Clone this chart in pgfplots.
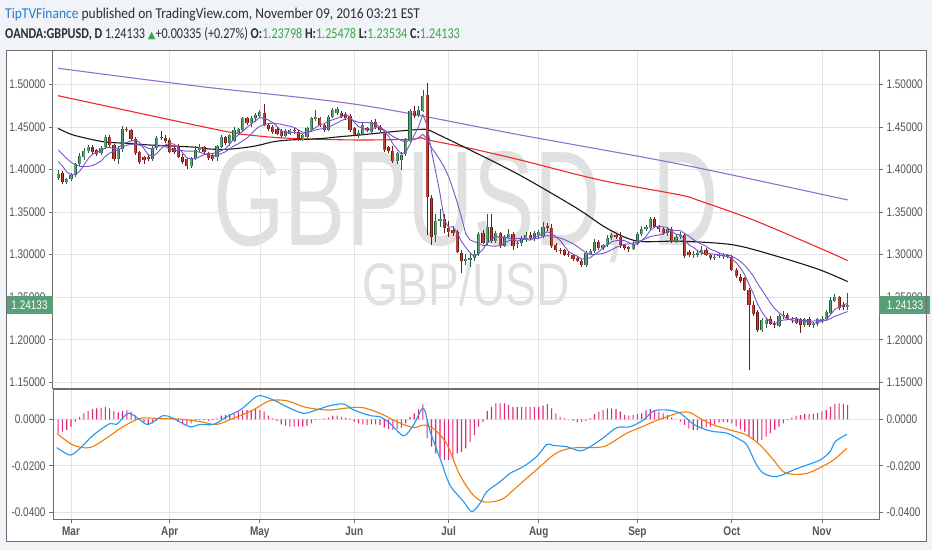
\documentclass[border=0pt]{standalone}
\usepackage{fontspec}
\setmainfont{Liberation Sans}[FakeStretch=0.8]
\newfontfamily\hdr{Carlito}[FakeStretch=0.9]
\newfontfamily\hdrn{Carlito}[FakeStretch=0.81]
\newfontfamily\sym{DejaVu Sans}
\newfontfamily\wmfont{Liberation Sans}[FakeStretch=0.68]
\newfontfamily\wmfontb{Liberation Sans}[FakeStretch=0.77]
\usepackage{pgfplots}
\pgfplotsset{compat=1.18}
\usepackage{pgfplotstable}

\definecolor{bgc}{RGB}{240,243,247}
\definecolor{framec}{RGB}{110,110,110}
\definecolor{gridc}{RGB}{228,228,228}
\definecolor{labc}{RGB}{85,85,85}
\definecolor{upf}{RGB}{88,160,118}
\definecolor{upb}{RGB}{40,92,60}
\definecolor{dnf}{RGB}{190,62,48}
\definecolor{dnb}{RGB}{100,28,20}
\definecolor{mashort}{RGB}{120,86,200}
\definecolor{malong}{RGB}{150,110,210}
\definecolor{mared}{RGB}{240,40,40}
\definecolor{mablack}{RGB}{25,25,25}
\definecolor{macdc}{RGB}{33,150,243}
\definecolor{sigc}{RGB}{245,124,0}
\definecolor{histc}{RGB}{226,40,120}
\definecolor{pricec}{RGB}{88,158,118}
\definecolor{wmc}{RGB}{224,224,224}
\definecolor{hblue}{RGB}{40,120,210}
\definecolor{htext}{RGB}{45,45,45}
\definecolor{hgreen}{RGB}{60,165,70}

% daily candles, index 0 = 1 Mar 2016; f, s = short moving averages
\pgfplotstableread{
i o h l c f s
-3 1.3900 1.3990 1.3875 1.3950 1.4092 1.4229
-2 1.3955 1.3980 1.3830 1.3850 1.4040 1.4180
-1 1.3850 1.3905 1.3835 1.3890 1.3970 1.4130
0 1.3890 1.3960 1.3870 1.3930 1.3940 1.4085
1 1.3930 1.4080 1.3910 1.4060 1.3937 1.4055
2 1.4060 1.4190 1.4040 1.4160 1.3978 1.4038
3 1.4150 1.4250 1.4110 1.4220 1.4052 1.4033
4 1.4215 1.4290 1.4190 1.4260 1.4126 1.4036
5 1.4260 1.4290 1.4180 1.4200 1.4180 1.4045
6 1.4230 1.4240 1.4160 1.4180 1.4204 1.4070
7 1.4190 1.4280 1.4170 1.4250 1.4222 1.4100
8 1.4260 1.4400 1.4240 1.4380 1.4254 1.4153
9 1.4380 1.4400 1.4260 1.4285 1.4259 1.4193
10 1.4285 1.4300 1.4100 1.4120 1.4243 1.4212
11 1.4120 1.4270 1.4060 1.4240 1.4255 1.4230
12 1.4240 1.4515 1.4210 1.4480 1.4301 1.4262
13 1.4470 1.4500 1.4440 1.4465 1.4318 1.4286
14 1.4460 1.4475 1.4340 1.4360 1.4333 1.4296
15 1.4360 1.4380 1.4170 1.4190 1.4347 1.4295
16 1.4200 1.4220 1.4070 1.4090 1.4317 1.4286
17 1.4150 1.4160 1.4060 1.4110 1.4243 1.4272
18 1.4150 1.4170 1.4100 1.4120 1.4174 1.4246
19 1.4120 1.4270 1.4100 1.4250 1.4152 1.4243
20 1.4250 1.4390 1.4230 1.4375 1.4189 1.4268
21 1.4385 1.4450 1.4350 1.4370 1.4245 1.4281
22 1.4370 1.4400 1.4310 1.4330 1.4289 1.4266
23 1.4345 1.4370 1.4190 1.4210 1.4307 1.4241
24 1.4250 1.4270 1.4180 1.4200 1.4297 1.4225
25 1.4270 1.4300 1.4130 1.4150 1.4252 1.4221
26 1.4150 1.4180 1.4060 1.4090 1.4196 1.4221
27 1.4120 1.4140 1.4000 1.4040 1.4138 1.4214
28 1.4040 1.4150 1.4020 1.4130 1.4122 1.4215
29 1.4130 1.4270 1.4110 1.4230 1.4128 1.4213
30 1.4230 1.4300 1.4210 1.4265 1.4151 1.4202
31 1.4265 1.4280 1.4180 1.4200 1.4173 1.4185
32 1.4195 1.4210 1.4110 1.4130 1.4191 1.4165
33 1.4170 1.4190 1.4100 1.4120 1.4189 1.4156
34 1.4150 1.4290 1.4100 1.4275 1.4198 1.4163
35 1.4260 1.4400 1.4250 1.4385 1.4222 1.4187
36 1.4385 1.4395 1.4290 1.4307 1.4243 1.4208
37 1.4307 1.4420 1.4280 1.4405 1.4298 1.4245
38 1.4330 1.4500 1.4320 1.4460 1.4366 1.4278
39 1.4420 1.4490 1.4400 1.4470 1.4405 1.4302
40 1.4460 1.4620 1.4440 1.4600 1.4448 1.4335
41 1.4600 1.4620 1.4520 1.4540 1.4495 1.4369
42 1.4540 1.4630 1.4500 1.4605 1.4535 1.4417
43 1.4600 1.4660 1.4560 1.4640 1.4571 1.4469
44 1.4630 1.4700 1.4600 1.4670 1.4611 1.4508
45 1.4660 1.4770 1.4510 1.4525 1.4596 1.4522
46 1.4525 1.4540 1.4450 1.4470 1.4582 1.4539
47 1.4500 1.4520 1.4420 1.4445 1.4550 1.4543
48 1.4480 1.4500 1.4400 1.4415 1.4505 1.4538
49 1.4455 1.4470 1.4370 1.4395 1.4450 1.4531
50 1.4395 1.4470 1.4380 1.4455 1.4436 1.4516
51 1.4420 1.4480 1.4400 1.4465 1.4435 1.4509
52 1.4465 1.4490 1.4420 1.4455 1.4437 1.4494
53 1.4445 1.4460 1.4330 1.4345 1.4423 1.4464
54 1.4345 1.4420 1.4330 1.4405 1.4425 1.4438
55 1.4385 1.4500 1.4370 1.4485 1.4431 1.4434
56 1.4465 1.4620 1.4440 1.4600 1.4458 1.4447
57 1.4590 1.4700 1.4570 1.4620 1.4491 1.4464
58 1.4600 1.4620 1.4500 1.4520 1.4526 1.4475
59 1.4520 1.4540 1.4440 1.4463 1.4538 1.4482
60 1.4463 1.4640 1.4450 1.4620 1.4565 1.4498
61 1.4612 1.4720 1.4600 1.4698 1.4584 1.4521
62 1.4660 1.4730 1.4640 1.4706 1.4601 1.4546
63 1.4660 1.4690 1.4600 1.4612 1.4620 1.4573
64 1.4651 1.4670 1.4580 1.4600 1.4647 1.4593
65 1.4627 1.4650 1.4440 1.4463 1.4616 1.4591
66 1.4483 1.4500 1.4390 1.4405 1.4557 1.4571
67 1.4405 1.4460 1.4370 1.4430 1.4502 1.4552
68 1.4416 1.4540 1.4400 1.4522 1.4484 1.4552
69 1.4483 1.4500 1.4440 1.4460 1.4456 1.4552
70 1.4443 1.4580 1.4430 1.4560 1.4475 1.4546
71 1.4560 1.4590 1.4480 1.4500 1.4494 1.4526
72 1.4500 1.4520 1.4440 1.4460 1.4500 1.4501
73 1.4444 1.4460 1.4210 1.4229 1.4442 1.4463
74 1.4260 1.4280 1.4190 1.4215 1.4393 1.4425
75 1.4215 1.4270 1.4080 1.4095 1.4300 1.4388
76 1.4095 1.4210 1.4070 1.4190 1.4238 1.4366
77 1.4115 1.4210 1.3995 1.4170 1.4180 1.4340
78 1.4182 1.4370 1.4160 1.4346 1.4203 1.4323
79 1.4330 1.4710 1.4320 1.4690 1.4298 1.4346
80 1.4690 1.4740 1.4600 1.4625 1.4404 1.4352
81 1.4640 1.4740 1.4620 1.4698 1.4506 1.4372
82 1.4690 1.4933 1.4670 1.4863 1.4644 1.4412
83 1.4870 1.5010 1.3230 1.3680 1.4511 1.4357
84 1.3661 1.3700 1.3113 1.3211 1.4215 1.4257
85 1.3230 1.3480 1.3150 1.3400 1.3970 1.4187
86 1.3400 1.3530 1.3330 1.3420 1.3715 1.4110
87 1.3420 1.3480 1.3250 1.3310 1.3404 1.4024
88 1.3310 1.3400 1.3210 1.3260 1.3320 1.3916
89 1.3290 1.3340 1.3220 1.3250 1.3328 1.3772
90 1.3270 1.3290 1.3020 1.3035 1.3255 1.3613
91 1.3015 1.3060 1.2780 1.2920 1.3155 1.3435
92 1.2920 1.3010 1.2880 1.2950 1.3083 1.3244
93 1.2940 1.3020 1.2850 1.2960 1.3023 1.3172
94 1.2960 1.3050 1.2920 1.3010 1.2975 1.3152
95 1.3010 1.3270 1.2980 1.3240 1.3016 1.3136
96 1.3250 1.3290 1.3120 1.3140 1.3060 1.3108
97 1.3140 1.3480 1.3110 1.3330 1.3136 1.3110
98 1.3330 1.3480 1.3140 1.3160 1.3176 1.3100
99 1.3160 1.3280 1.3140 1.3250 1.3224 1.3100
100 1.3250 1.3270 1.3080 1.3100 1.3196 1.3106
101 1.3100 1.3230 1.3090 1.3210 1.3210 1.3135
102 1.3210 1.3300 1.3180 1.3240 1.3192 1.3164
103 1.3240 1.3260 1.3060 1.3100 1.3180 1.3178
104 1.3120 1.3160 1.3080 1.3135 1.3157 1.3191
105 1.3135 1.3220 1.3100 1.3190 1.3175 1.3186
106 1.3190 1.3260 1.3150 1.3230 1.3179 1.3195
107 1.3230 1.3270 1.3170 1.3190 1.3169 1.3181
108 1.3190 1.3280 1.3160 1.3250 1.3199 1.3190
109 1.3230 1.3290 1.3200 1.3260 1.3224 1.3191
110 1.3220 1.3380 1.3200 1.3330 1.3252 1.3214
111 1.3335 1.3370 1.3280 1.3310 1.3268 1.3224
112 1.3310 1.3360 1.3080 1.3100 1.3250 1.3210
113 1.3110 1.3140 1.3030 1.3050 1.3210 1.3205
114 1.3060 1.3080 1.3010 1.3040 1.3166 1.3195
115 1.3050 1.3070 1.2980 1.2995 1.3099 1.3176
116 1.3010 1.3040 1.2970 1.2990 1.3035 1.3152
117 1.2990 1.3010 1.2930 1.2950 1.3005 1.3128
118 1.2955 1.2980 1.2910 1.2930 1.2981 1.3096
119 1.2925 1.2950 1.2855 1.2875 1.2948 1.3057
120 1.2875 1.3040 1.2860 1.3020 1.2953 1.3026
121 1.3010 1.3070 1.2990 1.3040 1.2963 1.2999
122 1.3040 1.3180 1.3020 1.3150 1.3003 1.3004
123 1.3150 1.3170 1.3060 1.3080 1.3033 1.3007
124 1.3075 1.3130 1.3050 1.3110 1.3080 1.3014
125 1.3110 1.3230 1.3090 1.3190 1.3114 1.3034
126 1.3190 1.3250 1.3170 1.3230 1.3152 1.3058
127 1.3230 1.3250 1.3180 1.3210 1.3164 1.3084
128 1.3210 1.3270 1.3080 1.3110 1.3170 1.3102
129 1.3110 1.3130 1.3060 1.3080 1.3164 1.3122
130 1.3085 1.3100 1.3030 1.3070 1.3140 1.3127
131 1.3070 1.3160 1.3050 1.3130 1.3120 1.3136
132 1.3130 1.3270 1.3110 1.3245 1.3127 1.3146
133 1.3245 1.3340 1.3220 1.3305 1.3166 1.3168
134 1.3300 1.3350 1.3280 1.3320 1.3214 1.3189
135 1.3310 1.3445 1.3290 1.3420 1.3284 1.3212
136 1.3420 1.3440 1.3310 1.3330 1.3324 1.3222
137 1.3330 1.3350 1.3270 1.3300 1.3335 1.3231
138 1.3300 1.3330 1.3230 1.3250 1.3324 1.3245
139 1.3250 1.3320 1.3220 1.3300 1.3320 1.3267
140 1.3300 1.3330 1.3140 1.3155 1.3267 1.3276
141 1.3160 1.3240 1.3140 1.3210 1.3243 1.3284
142 1.3210 1.3260 1.3180 1.3230 1.3229 1.3282
143 1.3230 1.3250 1.2960 1.2985 1.3176 1.3250
144 1.3030 1.3050 1.2970 1.2995 1.3115 1.3218
145 1.2995 1.3040 1.2960 1.3010 1.3086 1.3177
146 1.3000 1.3050 1.2970 1.3020 1.3048 1.3146
147 1.3020 1.3100 1.3000 1.3060 1.3014 1.3122
148 1.3060 1.3080 1.2980 1.3000 1.3017 1.3097
149 1.2995 1.3010 1.2940 1.2960 1.3010 1.3063
150 1.2960 1.2995 1.2940 1.2975 1.3003 1.3045
151 1.2985 1.3020 1.2960 1.2990 1.2997 1.3023
152 1.2980 1.3020 1.2950 1.2995 1.2984 1.2999
153 1.2990 1.3010 1.2960 1.2975 1.2979 1.2998
154 1.2975 1.2990 1.2810 1.2825 1.2952 1.2981
155 1.2820 1.2840 1.2730 1.2745 1.2906 1.2954
156 1.2740 1.2770 1.2670 1.2690 1.2846 1.2921
157 1.2725 1.2740 1.2570 1.2585 1.2764 1.2874
158 1.2585 1.2610 1.1640 1.2410 1.2651 1.2815
159 1.2410 1.2450 1.2280 1.2300 1.2546 1.2749
160 1.2330 1.2350 1.2090 1.2110 1.2419 1.2662
161 1.2110 1.2260 1.2090 1.2230 1.2327 1.2586
162 1.2180 1.2260 1.2140 1.2230 1.2256 1.2510
163 1.2250 1.2280 1.2170 1.2190 1.2212 1.2431
164 1.2200 1.2220 1.2140 1.2170 1.2186 1.2366
165 1.2165 1.2300 1.2150 1.2275 1.2219 1.2319
166 1.2275 1.2340 1.2250 1.2295 1.2232 1.2279
167 1.2290 1.2320 1.2230 1.2250 1.2236 1.2246
168 1.2250 1.2270 1.2200 1.2240 1.2246 1.2229
169 1.2250 1.2270 1.2180 1.2200 1.2252 1.2219
170 1.2240 1.2260 1.2080 1.2170 1.2231 1.2225
171 1.2170 1.2260 1.2150 1.2240 1.2220 1.2226
172 1.2240 1.2270 1.2150 1.2170 1.2204 1.2220
173 1.2170 1.2210 1.2140 1.2190 1.2194 1.2220
174 1.2180 1.2260 1.2160 1.2240 1.2202 1.2227
175 1.2235 1.2280 1.2200 1.2250 1.2218 1.2224
176 1.2245 1.2350 1.2230 1.2330 1.2236 1.2228
177 1.2320 1.2500 1.2300 1.2470 1.2296 1.2250
178 1.2460 1.2540 1.2440 1.2500 1.2358 1.2276
179 1.2500 1.2520 1.2350 1.2370 1.2384 1.2293
180 1.2410 1.2440 1.2350 1.2380 1.2410 1.2314
181 1.2380 1.2548 1.2353 1.2413 1.2427 1.2331
}\candles

% long moving averages
\pgfplotstableread{
i v
-3 1.4483
0.5 1.4405
7.5 1.4326
13 1.4307
18.4 1.4287
23.8 1.4275
29.3 1.4260
32.4 1.4240
36.3 1.4236
41 1.4260
44 1.4287
47.2 1.4326
51 1.4346
54.9 1.4354
58.8 1.4365
62.7 1.4385
67.4 1.4405
75 1.4444
81.4 1.4471
83.3 1.4463
86 1.4400
93 1.4229
104.7 1.3930
117.9 1.3544
124.9 1.3309
131.9 1.3160
142 1.3158
154.4 1.3114
165.3 1.2969
174.6 1.2820
181 1.2683
}\mablk

\pgfplotstableread{
i v
-3 1.4866
16.1 1.4659
27.7 1.4534
36.3 1.4444
39.4 1.4416
47.2 1.4377
54.9 1.4358
67.4 1.4346
79 1.4354
81.7 1.4373
83.3 1.4346
93 1.4248
104.7 1.4111
123.3 1.3876
142 1.3700
146.6 1.3630
159 1.3407
174.6 1.3074
181 1.2930
}\mared

\pgfplotstableread{
i v
-3 1.5188
30 1.4975
67.4 1.4757
104.7 1.4405
142 1.4061
181 1.3642
}\mapur

% MACD line and signal
\pgfplotstableread{
i v
-3.3 -0.0122
-0.2 -0.0154
2.1 -0.0125
5.2 -0.0068
9.1 -0.0018
10.6 -0.0022
13.4 0.0026
16.1 -0.0003
18 -0.0022
21.5 0.0016
23.8 0.0004
27.7 -0.0032
30.1 -0.0022
33.2 -0.0022
36.3 0.0011
39.4 0.0040
40.9 0.0062
43.7 0.0102
47.2 0.0083
50.3 0.0054
54.2 0.0026
57.3 0.0041
60.4 0.0059
63.5 0.0066
65.8 0.0041
69.7 0.0016
72 0.0011
74.3 -0.0017
77.5 -0.0071
79.8 -0.0025
82.1 0.0047
83.7 -0.0053
86 -0.0168
88.3 -0.0283
91.5 -0.0355
93.4 -0.0398
95.3 -0.0362
96.9 -0.0312
100 -0.0269
102.3 -0.0233
105.4 -0.0204
108.5 -0.0161
110.9 -0.0108
112.4 -0.0113
115.5 -0.0118
118.6 -0.0136
121 -0.0118
124.1 -0.0079
127.2 -0.0036
130.3 -0.0032
133.4 -0.0003
135.8 0.0036
138.9 0.0040
142 0.0026
145.1 -0.0022
148.2 -0.0046
149.7 -0.0053
152.9 -0.0060
156 -0.0089
157.5 -0.0111
159.8 -0.0197
161.4 -0.0233
163.7 -0.0247
165.3 -0.0243
168.4 -0.0218
171.5 -0.0197
174.6 -0.0175
176.9 -0.0139
178.1 -0.0096
180.8 -0.0065
}\macd

\pgfplotstableread{
i v
-3.3 -0.0061
0.5 -0.0111
4.4 -0.0122
8.2 -0.0082
12.1 -0.0032
16.1 0.0004
19.9 0.0004
25.3 0.0001
30.1 -0.0010
33.9 -0.0022
37.8 0.0004
42.4 0.0040
46.3 0.0080
50.3 0.0080
54.2 0.0054
57.3 0.0044
60.4 0.0040
65 0.0050
68.1 0.0050
72 0.0026
75.9 -0.0010
79.8 -0.0036
82.1 -0.0025
84.4 -0.0039
87.5 -0.0104
90.6 -0.0240
93.7 -0.0326
96 -0.0355
98.4 -0.0355
100.8 -0.0341
103.1 -0.0305
106.2 -0.0254
109.3 -0.0204
112.4 -0.0154
114.8 -0.0132
117.9 -0.0122
121 -0.0122
124.1 -0.0118
126.4 -0.0096
129.5 -0.0060
132.6 -0.0036
135.8 -0.0010
138.9 0.0011
142 0.0030
144.3 0.0029
146.6 0.0004
149.7 -0.0024
153.6 -0.0046
157.5 -0.0068
160.6 -0.0111
163.7 -0.0175
166 -0.0226
168.4 -0.0237
171.5 -0.0233
174.6 -0.0208
177.7 -0.0175
180.8 -0.0125
}\signal

% MACD histogram
\pgfplotstableread{
i v
-3 -0.0060
-2 -0.0053
-1 -0.0046
0 -0.0032
1 -0.0010
2 0.0011
3 0.0026
4 0.0036
5 0.0044
6 0.0047
7 0.0050
8 0.0054
9 0.0047
10 0.0036
11 0.0030
12 0.0036
13 0.0040
14 0.0033
15 0.0016
16 0.0004
17 -0.0013
18 -0.0022
19 -0.0017
20 -0.0007
21 0.0004
22 0.0004
23 0.0001
24 -0.0003
25 -0.0010
26 -0.0022
27 -0.0024
28 -0.0017
29 -0.0007
30 -0.0003
31 -0.0004
32 -0.0007
33 -0.0004
34 0.0004
35 0.0016
36 0.0019
37 0.0022
38 0.0026
39 0.0033
40 0.0040
41 0.0040
42 0.0040
43 0.0044
44 0.0040
45 0.0033
46 0.0016
47 0.0004
48 -0.0007
49 -0.0022
50 -0.0027
51 -0.0032
52 -0.0032
53 -0.0032
54 -0.0032
55 -0.0027
56 -0.0017
57 -0.0004
58 0.0001
59 0.0004
60 0.0007
61 0.0016
62 0.0016
63 0.0011
64 0.0007
65 0.0004
66 -0.0010
67 -0.0017
68 -0.0022
69 -0.0024
70 -0.0022
71 -0.0022
72 -0.0024
73 -0.0036
74 -0.0041
75 -0.0046
76 -0.0041
77 -0.0036
78 -0.0017
79 0.0011
80 0.0026
81 0.0044
82 0.0064
83 -0.0082
84 -0.0118
85 -0.0147
86 -0.0165
87 -0.0175
88 -0.0175
89 -0.0168
90 -0.0147
91 -0.0140
92 -0.0125
93 -0.0097
94 -0.0068
95 -0.0032
96 -0.0010
97 0.0036
98 0.0054
99 0.0069
100 0.0069
101 0.0069
102 0.0062
103 0.0054
104 0.0054
105 0.0054
106 0.0054
107 0.0054
108 0.0054
109 0.0054
110 0.0059
111 0.0065
112 0.0047
113 0.0026
114 0.0011
115 0.0004
116 0.0000
117 -0.0007
118 -0.0013
119 -0.0010
120 -0.0007
121 0.0004
122 0.0022
123 0.0033
124 0.0040
125 0.0047
126 0.0047
127 0.0044
128 0.0033
129 0.0019
130 0.0016
131 0.0019
132 0.0022
133 0.0026
134 0.0039
135 0.0044
136 0.0040
137 0.0033
138 0.0026
139 0.0019
140 0.0007
141 0.0000
142 -0.0010
143 -0.0024
144 -0.0039
145 -0.0046
146 -0.0046
147 -0.0042
148 -0.0036
149 -0.0032
150 -0.0022
151 -0.0013
152 -0.0010
153 -0.0013
154 -0.0017
155 -0.0032
156 -0.0042
157 -0.0053
158 -0.0075
159 -0.0089
160 -0.0096
161 -0.0089
162 -0.0075
163 -0.0060
164 -0.0046
165 -0.0032
166 -0.0017
167 -0.0003
168 0.0007
169 0.0016
170 0.0019
171 0.0022
172 0.0022
173 0.0024
174 0.0027
175 0.0033
176 0.0040
177 0.0054
178 0.0067
179 0.0069
180 0.0066
181 0.0062
}\hist

\pgfplotsset{
  panel/.style={
    scale only axis, width=826pt,
    xmin=-4.2, xmax=188.3,
    axis line style={draw=framec, line width=1pt},
    tick align=outside, major tick length=4pt,
    tick style={draw=framec, line width=0.7pt},
    tick label style={font=\fontsize{12.5}{13}\selectfont, text=labc},
    /pgf/number format/assume math mode=true,
  },
  candlebar/.style={draw=none, mark=none, forget plot,
    error bars/.cd, y dir=plus, y explicit, error mark=none,
    error bar style={line cap=butt, #1}},
}

\begin{document}
\begin{tikzpicture}[x=1pt, y=1pt]
\fill[bgc] (0pt,0pt) rectangle (932pt,550pt);
\fill[white] (6pt,9pt) rectangle (926pt,499pt);
% watermark
\node[anchor=base, text=wmc, inner sep=0pt] at (466pt,305pt)
  {\wmfont\fontsize{135}{135}\selectfont GBPUSD, D};
\node[anchor=base, text=wmc, inner sep=0pt] at (466pt,245pt)
  {\wmfontb\fontsize{60}{60}\selectfont GBP/USD};

% price panel
\begin{axis}[panel, at={(53pt,162pt)}, anchor=south west, height=337pt,
  ymin=1.1434, ymax=1.5391,
  xtick={0,23,44,66,88,109,132,154,175}, xticklabels={},
  xtick style={draw=none},
  ytick={1.15,1.2,1.25,1.3,1.35,1.4,1.45,1.5},
  ytick pos=left,
  yticklabel={\pgfmathprintnumber[fixed,fixed zerofill,precision=5]{\tick}},
  grid=major, major grid style={draw=gridc, line width=0.6pt},
  clip=true]
  \addplot[malong, line width=1.1pt, smooth] table[x=i, y=v] {\mapur};
  \addplot[mared, line width=1.1pt, smooth] table[x=i, y=v] {\mared};
  \addplot[mablack, line width=1.1pt, smooth] table[x=i, y=v] {\mablk};
  % wicks
  \addplot[candlebar={draw=upb, line width=0.7pt}] table[x=i, y=l,
    y error plus expr={(\thisrow{h}-\thisrow{l})*(\thisrow{c}>=\thisrow{o})}] {\candles};
  \addplot[candlebar={draw=dnb, line width=0.7pt}] table[x=i, y=l,
    y error plus expr={(\thisrow{h}-\thisrow{l})*(\thisrow{c}<\thisrow{o})}] {\candles};
  % bodies
  \addplot[candlebar={draw=upb, line width=3.2pt}] table[x=i, y=o,
    y error plus expr={max(\thisrow{c}-\thisrow{o},0)}] {\candles};
  \addplot[candlebar={draw=upf, line width=1.8pt}] table[x=i, y=o,
    y error plus expr={max(\thisrow{c}-\thisrow{o},0)}] {\candles};
  \addplot[candlebar={draw=dnb, line width=3.2pt}] table[x=i, y=c,
    y error plus expr={max(\thisrow{o}-\thisrow{c},0)}] {\candles};
  \addplot[candlebar={draw=dnf, line width=1.8pt}] table[x=i, y=c,
    y error plus expr={max(\thisrow{o}-\thisrow{c},0)}] {\candles};
  % short averages
  \addplot[mashort, line width=0.9pt] table[x=i, y=s] {\candles};
  \addplot[mashort, line width=0.9pt] table[x=i, y=f] {\candles};
\end{axis}
\begin{axis}[panel, at={(53pt,162pt)}, anchor=south west, height=337pt,
  ymin=1.1434, ymax=1.5391,
  axis x line=none, axis y line*=right,
  ytick={1.15,1.2,1.25,1.3,1.35,1.4,1.45,1.5},
  yticklabel={\pgfmathprintnumber[fixed,fixed zerofill,precision=5]{\tick}}]
  \addplot[draw=none] coordinates {(0,1.3)};
\end{axis}

% MACD panel
\begin{axis}[panel, at={(53pt,31pt)}, anchor=south west, height=130pt,
  ymin=-0.04297, ymax=0.01306,
  xtick={0,23,44,66,88,109,132,154,175},
  xticklabels={Mar,Apr,May,Jun,Jul,Aug,Sep,Oct,Nov},
  xticklabel style={font=\bfseries\fontsize{12.5}{13}\selectfont, text=labc},
  xtick pos=bottom,
  ytick={-0.04,-0.02,0}, ytick pos=left,
  scaled y ticks=false,
  yticklabel={\pgfmathprintnumber[fixed,fixed zerofill,precision=4]{\tick}},
  grid=major, major grid style={draw=gridc, line width=0.6pt}]
  \addplot[ybar, bar width=1.1pt, fill=histc, draw=none] table[x=i, y=v] {\hist};
  \addplot[sigc, line width=1.1pt, smooth] table[x=i, y=v] {\signal};
  \addplot[macdc, line width=1.1pt, smooth] table[x=i, y=v] {\macd};
\end{axis}
\begin{axis}[panel, at={(53pt,31pt)}, anchor=south west, height=130pt,
  ymin=-0.04297, ymax=0.01306,
  axis x line=none, axis y line*=right,
  ytick={-0.04,-0.02,0}, scaled y ticks=false,
  yticklabel={\pgfmathprintnumber[fixed,fixed zerofill,precision=4]{\tick}}]
  \addplot[draw=none] coordinates {(0,0)};
\end{axis}

% last price labels
\fill[pricec] (6pt,236pt) rectangle (53pt,254pt);
\fill[pricec] (879pt,236pt) rectangle (930pt,254pt);
\node[text=white, font=\fontsize{12.5}{13}\selectfont] at (29.5pt,245pt) {1.24133};
\node[text=white, font=\fontsize{12.5}{13}\selectfont] at (905pt,245pt) {1.24133};

\draw[framec, line width=1pt] (6pt,9pt) rectangle (926pt,499pt);

% header
\node[anchor=base west, inner sep=0pt, text=htext] at (5pt,531pt)
  {\hdr\fontsize{15}{16}\selectfont\textcolor{hblue}{TipTVFinance} published on TradingView.com, November 09, 2016 03:21 EST};
\node[anchor=base west, inner sep=0pt, text=htext] at (5pt,511pt)
  {\hdrn\fontsize{15}{16}\selectfont\textbf{OANDA:GBPUSD, D} 1.24133 \textcolor{hgreen}{\sym\fontsize{10}{12}\selectfont ▲}+0.00335 (+0.27\%) \textbf{O:}\textcolor{hgreen}{1.23798} \textbf{H:}\textcolor{hgreen}{1.25478} \textbf{L:}\textcolor{hgreen}{1.23534} \textbf{C:}\textcolor{hgreen}{1.24133}};

\pgfresetboundingbox
\path[use as bounding box] (0pt,0pt) rectangle (932pt,550pt);
\end{tikzpicture}
\end{document}
